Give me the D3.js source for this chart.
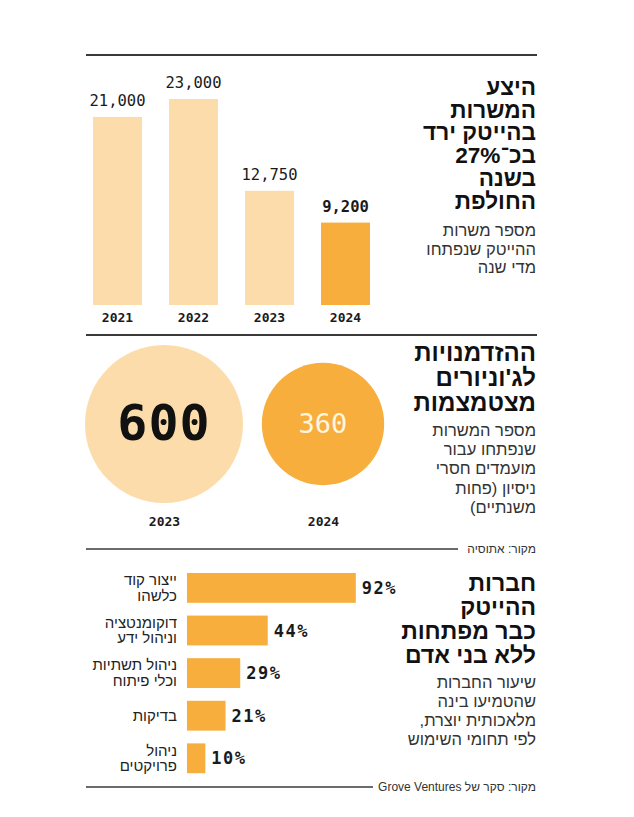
<!DOCTYPE html>
<html><head><meta charset="utf-8">
<script src="https://cdn.jsdelivr.net/npm/d3@7"></script>
<style>
html,body{margin:0;padding:0;background:#fff;}
svg{display:block;}
</style></head>
<body>
<script>
// ---- data ----
const years = ["2021", "2022", "2023", "2024"];
const jobs = [21000, 23000, 12750, 9200];
const jobLabels = ["21,000", "23,000", "12,750", "9,200"];

const juniorYears = ["2023", "2024"];
const juniorJobs = [600, 360];

const aiUses = [["ייצור קוד", "כלשהו"], ["דוקומנטציה", "וניהול ידע"], ["ניהול תשתיות", "וכלי פיתוח"], ["בדיקות"], ["ניהול", "פרויקטים"]];
const aiShares = [92, 44, 29, 21, 10];

const title1 = ["היצע", "המשרות", "בהייטק ירד", "בכ־27%", "בשנה", "החולפת"];
const sub1 = ["מספר משרות", "ההייטק שנפתחו", "מדי שנה"];
const title2 = ["ההזדמנויות", "לג'וניורים", "מצטמצמות"];
const sub2 = ["מספר המשרות", "שנפתחו עבור", "מועמדים חסרי", "ניסיון (פחות", "משנתיים)"];
const source2 = "מקור: אתוסיה";
const title3 = ["חברות", "ההייטק", "כבר מפתחות", "ללא בני אדם"];
const sub3 = ["שיעור החברות", "שהטמיעו בינה", "מלאכותית יוצרת,", "לפי תחומי השימוש"];
const source3 = "מקור: סקר של Grove Ventures";

// ---- styles ----
const LIGHT = "#fddcab", ORANGE = "#f7ae3c", INK = "#1a1a1a", LINE = "#3a3a3a";
const HEB = "'Liberation Sans', 'DejaVu Sans', sans-serif";
const MONO = "'DejaVu Sans Mono', monospace";

const W = 634, H = 817;
const svg = d3.select("body").append("svg").attr("width", W).attr("height", H);

function rtlLines(lines, x, y0, dy, size, weight, color) {
  const g = svg.append("g");
  lines.forEach((t, i) => {
    g.append("text").attr("x", x).attr("y", y0 + i * dy)
      .attr("direction", "rtl").attr("text-anchor", "start")
      .attr("font-family", HEB).attr("font-size", size).attr("font-weight", weight)
      .attr("fill", color).text(t);
  });
  return g;
}

// ---- section 1 ----
svg.append("line").attr("x1", 86).attr("x2", 537).attr("y1", 55).attr("y2", 55)
  .attr("stroke", LINE).attr("stroke-width", 2);

const x1 = d3.scaleBand().domain(years).range([93, 370]).paddingInner(0.355).paddingOuter(0);
const y1 = d3.scaleLinear().domain([0, 23000]).range([305, 99]);

svg.append("g").selectAll("rect").data(years).join("rect")
  .attr("x", d => x1(d)).attr("width", x1.bandwidth())
  .attr("y", (d, i) => y1(jobs[i])).attr("height", (d, i) => y1(0) - y1(jobs[i]))
  .attr("fill", (d, i) => i === years.length - 1 ? ORANGE : LIGHT);

svg.append("g").selectAll("text").data(years).join("text")
  .attr("x", d => x1(d) + x1.bandwidth() / 2).attr("y", (d, i) => y1(jobs[i]) - 11)
  .attr("text-anchor", "middle").attr("font-family", MONO).attr("font-size", 15.5)
  .attr("font-weight", (d, i) => i === years.length - 1 ? "bold" : "normal")
  .attr("fill", INK).text((d, i) => jobLabels[i]);

const ax1 = svg.append("g").attr("transform", `translate(0,${y1(0)})`)
  .call(d3.axisBottom(x1).tickSize(0).tickPadding(8));
ax1.select(".domain").remove();
ax1.selectAll("text").attr("font-family", MONO).attr("font-size", 13).attr("font-weight", "bold").attr("fill", INK);

rtlLines(title1, 536, 95, 22.7, 22.6, "bold", "#111");
rtlLines(sub1, 536, 236, 18.5, 16.5, "normal", "#333");

// ---- section 2 ----
svg.append("line").attr("x1", 86).attr("x2", 537).attr("y1", 335).attr("y2", 335)
  .attr("stroke", LINE).attr("stroke-width", 2);

const x2 = d3.scalePoint().domain(juniorYears).range([164, 323]);
const r2 = d3.scaleSqrt().domain([0, 600]).range([0, 79]);
const cy = 424;

svg.append("g").selectAll("circle").data(juniorYears).join("circle")
  .attr("cx", d => x2(d)).attr("cy", cy).attr("r", (d, i) => r2(juniorJobs[i]))
  .attr("fill", (d, i) => i === 0 ? LIGHT : ORANGE);

svg.append("g").selectAll("text").data(juniorYears).join("text")
  .attr("x", d => x2(d)).attr("y", (d, i) => i === 0 ? cy + 16 : cy + 9)
  .attr("text-anchor", "middle").attr("font-family", MONO)
  .attr("font-size", (d, i) => i === 0 ? 50 : 27)
  .attr("letter-spacing", (d, i) => i === 0 ? 1 : 0)
  .attr("font-weight", (d, i) => i === 0 ? "bold" : "normal")
  .attr("fill", (d, i) => i === 0 ? "#111" : "#fff6e0")
  .text((d, i) => juniorJobs[i]);

const ax2 = svg.append("g").attr("transform", `translate(0,${cy + 102})`)
  .call(d3.axisBottom(x2).tickSize(0).tickPadding(0));
ax2.select(".domain").remove();
ax2.selectAll("text").attr("dy", 0).attr("font-family", MONO).attr("font-size", 13).attr("font-weight", "bold").attr("fill", INK);

rtlLines(title2, 536, 361, 25, 24, "bold", "#111");
rtlLines(sub2, 536, 436, 19.2, 16.5, "normal", "#333");

svg.append("line").attr("x1", 86).attr("x2", 458).attr("y1", 549).attr("y2", 549)
  .attr("stroke", LINE).attr("stroke-width", 1.5);
rtlLines([source2], 536, 553, 0, 12, "normal", "#333");

// ---- section 3 ----
const x3 = d3.scaleLinear().domain([0, 100]).range([187, 370.5]);
const y3 = d3.scaleBand().domain(d3.range(aiShares.length)).range([566.6, 779.6]).paddingInner(0.3).paddingOuter(0.15);

svg.append("g").selectAll("rect").data(aiShares).join("rect")
  .attr("x", x3(0)).attr("width", d => x3(d) - x3(0))
  .attr("y", (d, i) => y3(i)).attr("height", y3.bandwidth())
  .attr("fill", ORANGE);

svg.append("g").selectAll("text").data(aiShares).join("text")
  .attr("x", d => x3(d) + 6).attr("y", (d, i) => y3(i) + y3.bandwidth() / 2 + 6)
  .attr("font-family", MONO).attr("font-size", 17).attr("font-weight", "bold")
  .attr("letter-spacing", 1.5).attr("fill", INK).text(d => d + "%");

aiUses.forEach((lines, i) => {
  const cyb = y3(i) + y3.bandwidth() / 2;
  const lh = 15.5;
  const start = cyb - (lines.length - 1) * lh / 2 + 5;
  rtlLines(lines, 177, start, lh, 15, "normal", "#222");
});

rtlLines(title3, 536, 591, 24, 23, "bold", "#111");
rtlLines(sub3, 536, 688, 19, 16.5, "normal", "#333");

svg.append("line").attr("x1", 86).attr("x2", 373).attr("y1", 787).attr("y2", 787)
  .attr("stroke", LINE).attr("stroke-width", 1.5);
rtlLines([source3], 536, 791, 0, 12, "normal", "#333");
</script>
</body></html>
